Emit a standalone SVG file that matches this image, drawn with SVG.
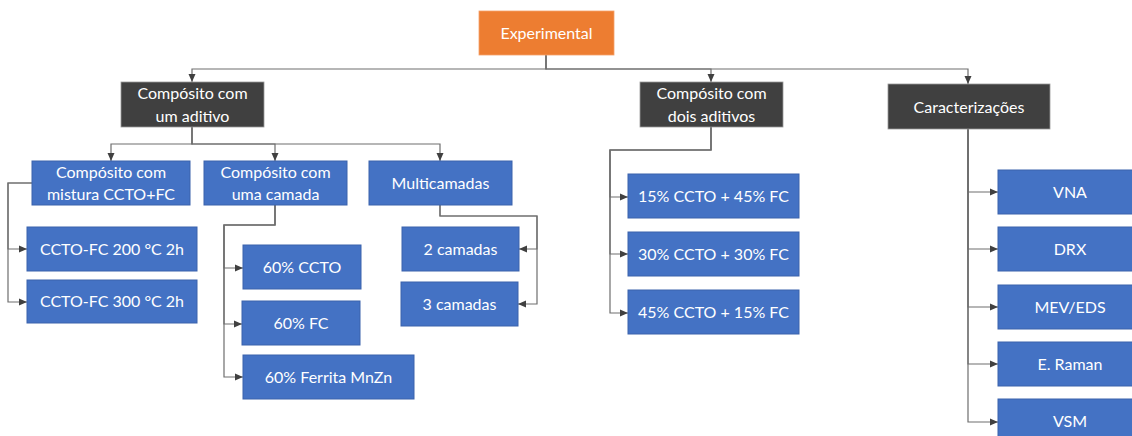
<svg xmlns="http://www.w3.org/2000/svg" width="1132" height="436" viewBox="0 0 1132 436">
<style>
.blue{fill:#4472C4;stroke:#3A62AC;stroke-width:1}
.dark{fill:#404040;stroke:#9A9A9A;stroke-width:0.8}
.orange{fill:#ED7D31;stroke:#F4A06A;stroke-width:0.8}
text{font-family:Lato,"Liberation Sans",sans-serif;font-size:16px;fill:#FFFFFF;text-anchor:middle}
.c{fill:none;stroke:#6E6E6E;stroke-width:1.2;marker-end:url(#ah)}
</style>
<defs>
<marker id="ah" markerUnits="userSpaceOnUse" markerWidth="8" markerHeight="8" viewBox="0 0 8 8" refX="8" refY="4" orient="auto">
<path d="M0,0.5 L8,4 L0,7.5 Z" fill="#404040"/>
</marker>
</defs>
<rect width="1132" height="436" fill="#FFFFFF"/>
<g id="connectors">
<path class="c" d="M546,55 V69 H192 V82"/>
<path class="c" d="M546,55 V69 H711 V82"/>
<path class="c" d="M546,55 V69 H968 V84"/>
<path class="c" d="M192,127 V144 H111 V161"/>
<path class="c" d="M192,127 V144 H275 V161"/>
<path class="c" d="M192,127 V144 H440 V161"/>
<path class="c" d="M32,183 H8 V249 H27"/>
<path class="c" d="M32,183 H8 V302 H27"/>
<path class="c" d="M275,205 V225 H224 V268 H243"/>
<path class="c" d="M275,205 V225 H224 V324 H242"/>
<path class="c" d="M275,205 V225 H224 V377 H243"/>
<path class="c" d="M440,205 V216 H537 V249 H519"/>
<path class="c" d="M440,205 V216 H537 V304 H518"/>
<path class="c" d="M711,127 V150 H610 V197 H628"/>
<path class="c" d="M711,127 V150 H610 V254 H628"/>
<path class="c" d="M711,127 V150 H610 V313 H628"/>
<path class="c" d="M968,129 V192 H998"/>
<path class="c" d="M968,129 V249 H998"/>
<path class="c" d="M968,129 V307 H998"/>
<path class="c" d="M968,129 V364 H998"/>
<path class="c" d="M968,129 V422 H998"/>
</g>
<g id="experimental"><rect class="orange" x="479" y="11" width="135" height="44"/><text x="546.5" y="39">Experimental</text></g>
<g id="um-aditivo"><rect class="dark" x="121" y="82" width="143" height="45"/><text x="192.5" y="99">Compósito com</text><text x="192.5" y="122">um aditivo</text></g>
<g id="dois-aditivos"><rect class="dark" x="640" y="82" width="143" height="45"/><text x="711.5" y="99">Compósito com</text><text x="711.5" y="122">dois aditivos</text></g>
<g id="caracterizacoes"><rect class="dark" x="888" y="84" width="162" height="45"/><text x="969" y="113">Caracterizações</text></g>
<g id="mistura"><rect class="blue" x="32" y="161" width="158" height="44"/><text x="111" y="177.5">Compósito com</text><text x="111" y="200">mistura CCTO+FC</text></g>
<g id="uma-camada"><rect class="blue" x="204" y="161" width="143" height="44"/><text x="275.5" y="177.5">Compósito com</text><text x="275.5" y="200">uma camada</text></g>
<g id="multicamadas"><rect class="blue" x="369" y="161" width="143" height="44"/><text x="440.5" y="188.5">Multicamadas</text></g>
<g id="ccto-fc-200"><rect class="blue" x="27" y="227" width="170" height="44"/><text x="112" y="254.5">CCTO-FC 200 °C 2h</text></g>
<g id="ccto-fc-300"><rect class="blue" x="27" y="280" width="170" height="43"/><text x="112" y="307">CCTO-FC 300 °C 2h</text></g>
<g id="ccto60"><rect class="blue" x="243" y="245" width="118" height="44"/><text x="302" y="272.5">60% CCTO</text></g>
<g id="fc60"><rect class="blue" x="242" y="301" width="118" height="44"/><text x="301" y="328.5">60% FC</text></g>
<g id="ferrita60"><rect class="blue" x="243" y="355" width="171" height="44"/><text x="328.5" y="382.5">60% Ferrita MnZn</text></g>
<g id="camadas2"><rect class="blue" x="402" y="227" width="117" height="44"/><text x="460.5" y="254.5">2 camadas</text></g>
<g id="camadas3"><rect class="blue" x="401" y="282" width="117" height="44"/><text x="459.5" y="309.5">3 camadas</text></g>
<g id="mix15-45"><rect class="blue" x="628" y="174" width="171" height="44"/><text x="713.5" y="201.5">15% CCTO + 45% FC</text></g>
<g id="mix30-30"><rect class="blue" x="628" y="232" width="171" height="44"/><text x="713.5" y="259.5">30% CCTO + 30% FC</text></g>
<g id="mix45-15"><rect class="blue" x="628" y="290" width="171" height="44"/><text x="713.5" y="317.5">45% CCTO + 15% FC</text></g>
<g id="vna"><rect class="blue" x="998" y="170" width="144" height="44"/><text x="1070" y="197.5">VNA</text></g>
<g id="drx"><rect class="blue" x="998" y="227" width="144" height="44"/><text x="1070" y="254.5">DRX</text></g>
<g id="mev-eds"><rect class="blue" x="998" y="285" width="144" height="44"/><text x="1070" y="312.5">MEV/EDS</text></g>
<g id="raman"><rect class="blue" x="998" y="342" width="144" height="44"/><text x="1070" y="369.5">E. Raman</text></g>
<g id="vsm"><rect class="blue" x="998" y="399" width="144" height="44"/><text x="1070" y="426.5">VSM</text></g>
</svg>
